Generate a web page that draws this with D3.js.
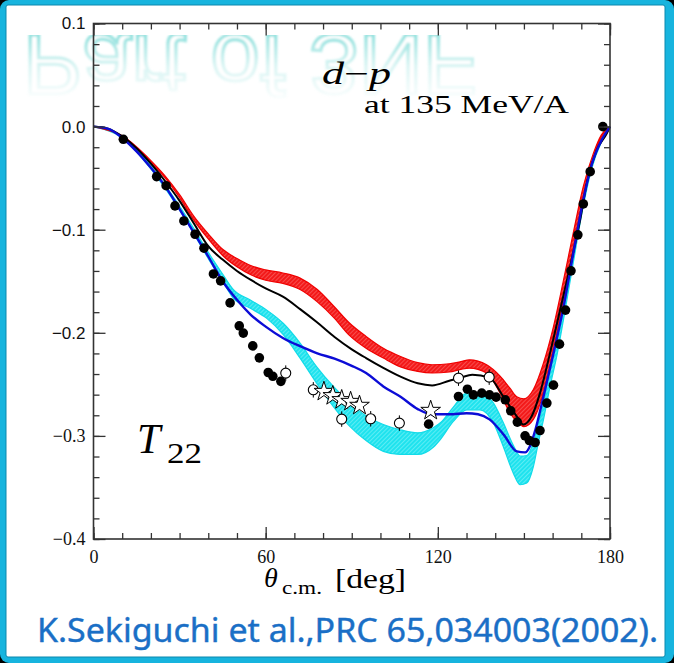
<!DOCTYPE html>
<html><head><meta charset="utf-8">
<script src="https://cdn.jsdelivr.net/npm/d3@7"></script>
<style>html,body{margin:0;padding:0;background:#000;}svg{display:block;}</style>
</head><body>
<script>
// ---------- data ----------
const xTicksMajor = [0, 60, 120, 180];
const yTicksMajor = [0.1, 0.0, -0.1, -0.2, -0.3, -0.4];

// red hatched band
const redTheta = [0,10,20,25,30,35,40,45,50,55,60,66,72,78,84,89,95,101,107,113,118,124,128,131,137,141.7,145.2,147.5,150,153.3,156.8,160.3,163.8,167.2,170.7,174.2,177,180];
const redUpper = [0,-0.009,-0.033,-0.048,-0.066,-0.087,-0.104,-0.119,-0.128,-0.135,-0.139,-0.142,-0.147,-0.158,-0.175,-0.19,-0.2035,-0.215,-0.223,-0.229,-0.231,-0.230,-0.228,-0.2262,-0.231,-0.242,-0.254,-0.262,-0.264,-0.255,-0.2295,-0.194,-0.149,-0.103,-0.058,-0.026,-0.008,0];
const redLower = [0,-0.0095,-0.035,-0.050,-0.069,-0.091,-0.109,-0.125,-0.136,-0.144,-0.149,-0.152,-0.158,-0.170,-0.186,-0.202,-0.215,-0.2245,-0.233,-0.2375,-0.239,-0.238,-0.2355,-0.2343,-0.239,-0.2585,-0.278,-0.286,-0.291,-0.284,-0.2585,-0.2166,-0.168,-0.12,-0.068,-0.031,-0.010,0];

// cyan hatched band
const cyanTheta = [0,10,20,25,30,35,40,45,48.7,54.5,60.4,66.2,72,77.8,83.6,89.4,95.2,101,106.8,113,118.4,121,125.4,130.1,134.7,139.4,142.8,146.3,148.7,151,153.3,155,156.8,159.1,161.5,163.8,167.2,170.7,173.6,177,180];
const cyanUpper = [0,-0.0105,-0.038,-0.057,-0.077,-0.099,-0.122,-0.143,-0.158,-0.168,-0.178,-0.191,-0.21,-0.233,-0.252,-0.268,-0.281,-0.289,-0.294,-0.297,-0.292,-0.287,-0.272,-0.2585,-0.2585,-0.2682,-0.287,-0.309,-0.3195,-0.319,-0.306,-0.288,-0.2684,-0.233,-0.202,-0.172,-0.120,-0.068,-0.035,-0.012,0];
const cyanLower = [0,-0.011,-0.041,-0.060,-0.081,-0.104,-0.128,-0.150,-0.1664,-0.176,-0.186,-0.202,-0.2246,-0.249,-0.2715,-0.291,-0.305,-0.315,-0.318,-0.318,-0.311,-0.303,-0.286,-0.2747,-0.2747,-0.2876,-0.3103,-0.3361,-0.3474,-0.3457,-0.3297,-0.307,-0.2844,-0.2521,-0.222,-0.187,-0.132,-0.077,-0.041,-0.015,0];

// black curve
const blackTheta = [0,5,10,15,20,25,30,35,40,45,50,55,60,66,72,78,84,90,95,101,107,113,118,124,128,132,138,142.8,147.5,149.8,152.7,155.6,159.1,162.6,166.1,169.6,171.9,175.4,178.9,180];
const blackValue = [0,-0.002,-0.0095,-0.021,-0.036,-0.053,-0.072,-0.094,-0.116,-0.129,-0.140,-0.149,-0.157,-0.165,-0.177,-0.190,-0.204,-0.216,-0.2245,-0.234,-0.2425,-0.249,-0.251,-0.2465,-0.2435,-0.2408,-0.2435,-0.2618,-0.281,-0.289,-0.281,-0.2585,-0.2197,-0.1778,-0.1358,-0.0905,-0.0549,-0.0226,-0.0065,0];

// blue curve
const blueTheta = [0,5,10,15,20,25,30,35,40,45,50,55,60,66,72,78,84,90,95,101,107,113,118,124,130,134,138,143,147.5,150.4,152.1,154,156.8,160.3,163.8,167.2,170.7,173.6,177.1,180];
const blueValue = [0,-0.002,-0.011,-0.024,-0.040,-0.058,-0.080,-0.103,-0.126,-0.150,-0.168,-0.183,-0.194,-0.205,-0.213,-0.220,-0.225,-0.232,-0.239,-0.252,-0.262,-0.274,-0.279,-0.279,-0.278,-0.279,-0.284,-0.299,-0.315,-0.316,-0.310,-0.294,-0.262,-0.220,-0.175,-0.123,-0.071,-0.037,-0.013,0];

// filled circles (data)
const filledTheta = [10.4,22.0,25.3,28.4,31.5,35.4,38.5,41.8,44.3,47.6,50.8,52.2,55.5,57.8,60.9,62.5,65.3,116.8,127.2,130.3,132.4,135.3,138.0,140.3,143.5,145.4,147.7,150.4,151.9,153.9,155.6,158.0,160.3,162.4,164.5,166.4,168.8,170.7,173.1,177.5];
const filledValue = [-0.0123,-0.0485,-0.0573,-0.0769,-0.0915,-0.1044,-0.1179,-0.1429,-0.1496,-0.171,-0.1933,-0.2003,-0.2127,-0.2243,-0.2385,-0.2422,-0.2471,-0.2886,-0.2618,-0.2547,-0.2602,-0.2585,-0.2602,-0.2624,-0.265,-0.2757,-0.2866,-0.2999,-0.3045,-0.3064,-0.2948,-0.2682,-0.2508,-0.211,-0.178,-0.1399,-0.105,-0.075,-0.0437,0.0];

// open circles
const openTheta = [67.0,76.6,86.5,96.6,106.6,127.2,137.9];
const openValue = [-0.2391,-0.2553,-0.2837,-0.2834,-0.2876,-0.244,-0.243];

// open stars
const starTheta = [80.3,83.4,86.5,89.6,92.7,117.5];
const starValue = [-0.257,-0.2611,-0.265,-0.2667,-0.2705,-0.2754];

// ---------- drawing ----------
const W = 674, H = 663;
const svg = d3.select("body").append("svg").attr("width", W).attr("height", H);
const defs = svg.append("defs");

// outer frame
svg.append("rect").attr("x",0).attr("y",0).attr("width",W).attr("height",H).attr("fill","#000");
svg.append("rect").attr("x",0).attr("y",0).attr("width",W).attr("height",H).attr("rx",9).attr("fill","#17b4de");
svg.append("rect").attr("x",6).attr("y",5).attr("width",659).attr("height",652).attr("rx",2)
  .attr("fill","#fff").attr("stroke","#0c88ad").attr("stroke-width",1);

const x = d3.scaleLinear().domain([0,180]).range([93.5,610]);
const y = d3.scaleLinear().domain([-0.4,0.1]).range([539,23.5]);

// watermark (vertically mirrored, fading reflection)
const grad = defs.append("linearGradient").attr("id","fadeG").attr("gradientUnits","userSpaceOnUse")
  .attr("x1",0).attr("y1",35).attr("x2",0).attr("y2",104);
grad.append("stop").attr("offset",0).attr("stop-color","#fff").attr("stop-opacity",0.85);
grad.append("stop").attr("offset",0.45).attr("stop-color","#fff").attr("stop-opacity",0.3);
grad.append("stop").attr("offset",1).attr("stop-color","#fff").attr("stop-opacity",0);
defs.append("mask").attr("id","fadeM").attr("maskUnits","userSpaceOnUse")
  .attr("x",0).attr("y",0).attr("width",W).attr("height",H)
  .append("rect").attr("x",0).attr("y",35).attr("width",W).attr("height",H).attr("fill","url(#fadeG)");
const glow = defs.append("filter").attr("id","glow").attr("x","-5%").attr("y","-20%").attr("width","110%").attr("height","140%");
glow.append("feGaussianBlur").attr("stdDeviation",1.2);
const wm = svg.append("g").attr("mask","url(#fadeM)");
wm.append("text").attr("transform","translate(23,35) scale(1,-1)")
  .attr("font-family","Liberation Sans, Arial, sans-serif").attr("font-size",86)
  .attr("textLength",454).attr("lengthAdjust","spacingAndGlyphs")
  .attr("fill","#fff").attr("stroke","#7edcd8").attr("stroke-width",3.2).attr("filter","url(#glow)")
  .text("Part of 3NF");

// hatch patterns
function hatch(id, base, line) {
  const p = defs.append("pattern").attr("id",id).attr("patternUnits","userSpaceOnUse")
    .attr("width",3).attr("height",3).attr("patternTransform","rotate(45)");
  p.append("rect").attr("width",3).attr("height",3).attr("fill",base);
  p.append("line").attr("x1",0).attr("y1",0).attr("x2",0).attr("y2",3).attr("stroke",line).attr("stroke-width",0.9);
}
hatch("hRed", "#f31a1a", "#ff8a8a");
hatch("hCyan", "#1fe3ee", "#a8f6fa");

const area = (th, up, lo) => d3.area().curve(d3.curveMonotoneX)
  .x((d,i)=>x(th[i])).y0((d,i)=>y(up[i])).y1((d,i)=>y(lo[i]))(th);
const line = (th, v) => d3.line().curve(d3.curveMonotoneX)
  .x((d,i)=>x(th[i])).y((d,i)=>y(v[i]))(th);

svg.append("path").attr("d", area(cyanTheta, cyanUpper, cyanLower))
  .attr("fill","url(#hCyan)").attr("stroke","#12dbe8").attr("stroke-width",1.2);
svg.append("path").attr("d", area(redTheta, redUpper, redLower))
  .attr("fill","url(#hRed)").attr("stroke","#f00000").attr("stroke-width",1.2);
svg.append("path").attr("d", line(blackTheta, blackValue))
  .attr("fill","none").attr("stroke","#000").attr("stroke-width",2);
svg.append("path").attr("d", line(blueTheta, blueValue))
  .attr("fill","none").attr("stroke","#0c0cd6").attr("stroke-width",2.4);

// filled points
svg.append("g").selectAll("circle").data(filledTheta).join("circle")
  .attr("cx",(d,i)=>x(filledTheta[i])).attr("cy",(d,i)=>y(filledValue[i])).attr("r",4.8).attr("fill","#000");

// open circles with small error bars
const og = svg.append("g");
og.selectAll("line").data(openTheta).join("line")
  .attr("x1",(d,i)=>x(openTheta[i])).attr("x2",(d,i)=>x(openTheta[i]))
  .attr("y1",(d,i)=>y(openValue[i]+0.0075)).attr("y2",(d,i)=>y(openValue[i]-0.0075))
  .attr("stroke","#000").attr("stroke-width",1);
og.selectAll("circle").data(openTheta).join("circle")
  .attr("cx",(d,i)=>x(openTheta[i])).attr("cy",(d,i)=>y(openValue[i])).attr("r",5)
  .attr("fill","#fff").attr("stroke","#000").attr("stroke-width",1.1);

// open stars
const star = d3.symbol().type(d3.symbolStar).size(120);
svg.append("g").selectAll("path").data(starTheta).join("path")
  .attr("d", star)
  .attr("transform",(d,i)=>`translate(${x(starTheta[i])},${y(starValue[i])})`)
  .attr("fill","#fff").attr("stroke","#000").attr("stroke-width",1);

// axes (ticks inward on all four sides)
const ax = svg.append("g").attr("class","axes");
const xMinor = d3.range(0,181,10), yMinor = d3.range(-0.4,0.1001,0.02);
function styleAxis(g){ g.select(".domain").remove(); g.selectAll(".tick line").attr("stroke","#333").attr("stroke-width",1.3); }
ax.append("g").attr("transform","translate(0,539)")
  .call(d3.axisBottom(x).tickValues(xMinor).tickSize(-6).tickFormat("")).call(styleAxis);
ax.append("g").attr("transform","translate(0,539)")
  .call(d3.axisBottom(x).tickValues(xTicksMajor).tickSize(-12).tickPadding(11).tickFormat(d3.format("d"))).call(styleAxis)
  .call(g=>g.selectAll("text").attr("font-family","Liberation Serif, serif").attr("font-size",18).attr("fill","#111"));
ax.append("g").attr("transform","translate(0,23.5)")
  .call(d3.axisTop(x).tickValues(xMinor).tickSize(-6).tickFormat("")).call(styleAxis);
ax.append("g").attr("transform","translate(0,23.5)")
  .call(d3.axisTop(x).tickValues(xTicksMajor).tickSize(-12).tickFormat("")).call(styleAxis);
ax.append("g").attr("transform","translate(93.5,0)")
  .call(d3.axisLeft(y).tickValues(yMinor).tickSize(-6).tickFormat("")).call(styleAxis);
ax.append("g").attr("transform","translate(93.5,0)")
  .call(d3.axisLeft(y).tickValues(yTicksMajor).tickSize(-12).tickPadding(8).tickFormat(d3.format(".1f"))).call(styleAxis)
  .call(g=>g.selectAll("text")
    .attr("font-family",d=> d>=-0.2 ? "Liberation Sans, Arial, sans-serif" : "Liberation Serif, serif")
    .attr("font-size",d=> d>=-0.2 ? 17 : 18).attr("fill","#111"));
ax.append("g").attr("transform","translate(610,0)")
  .call(d3.axisRight(y).tickValues(yMinor).tickSize(-6).tickFormat("")).call(styleAxis);
ax.append("g").attr("transform","translate(610,0)")
  .call(d3.axisRight(y).tickValues(yTicksMajor).tickSize(-12).tickFormat("")).call(styleAxis);
svg.append("rect").attr("x",93.5).attr("y",23.5).attr("width",516.5).attr("height",515.5)
  .attr("fill","none").attr("stroke","#333").attr("stroke-width",1.6);

// texts
const serif = "Liberation Serif, 'DejaVu Serif', serif";
const dp = svg.append("text").attr("x",322).attr("y",84).attr("font-family",serif).attr("font-size",31)
  .attr("textLength",69).attr("lengthAdjust","spacingAndGlyphs");
dp.append("tspan").attr("font-style","italic").text("d");
dp.append("tspan").text("−");
dp.append("tspan").attr("font-style","italic").text("p");
svg.append("text").attr("x",364).attr("y",113).attr("font-family",serif).attr("font-size",25)
  .attr("textLength",205).attr("lengthAdjust","spacingAndGlyphs").text("at 135 MeV/A");

svg.append("text").attr("x",137).attr("y",453).attr("font-family",serif).attr("font-style","italic")
  .attr("font-size",42).text("T");
svg.append("text").attr("x",167).attr("y",463).attr("font-family",serif).attr("font-size",30)
  .attr("textLength",35).attr("lengthAdjust","spacingAndGlyphs").text("22");

svg.append("text").attr("x",264).attr("y",587).attr("font-family",serif).attr("font-style","italic")
  .attr("font-size",28).text("θ");
svg.append("text").attr("x",282).attr("y",594).attr("font-family",serif).attr("font-size",19)
  .attr("textLength",40).attr("lengthAdjust","spacingAndGlyphs").text("c.m.");
svg.append("text").attr("x",335).attr("y",588).attr("font-family",serif).attr("font-size",28)
  .attr("textLength",71).attr("lengthAdjust","spacingAndGlyphs").text("[deg]");

svg.append("text").attr("x",37).attr("y",642).attr("font-family","'Noto Sans', 'Liberation Sans', sans-serif")
  .attr("font-size",32).attr("fill","#1a6fc6").attr("stroke","#1a6fc6").attr("stroke-width",0.4)
  .attr("textLength",621).attr("lengthAdjust","spacingAndGlyphs")
  .text("K.Sekiguchi et al.,PRC 65,034003(2002).");
</script>
</body></html>
